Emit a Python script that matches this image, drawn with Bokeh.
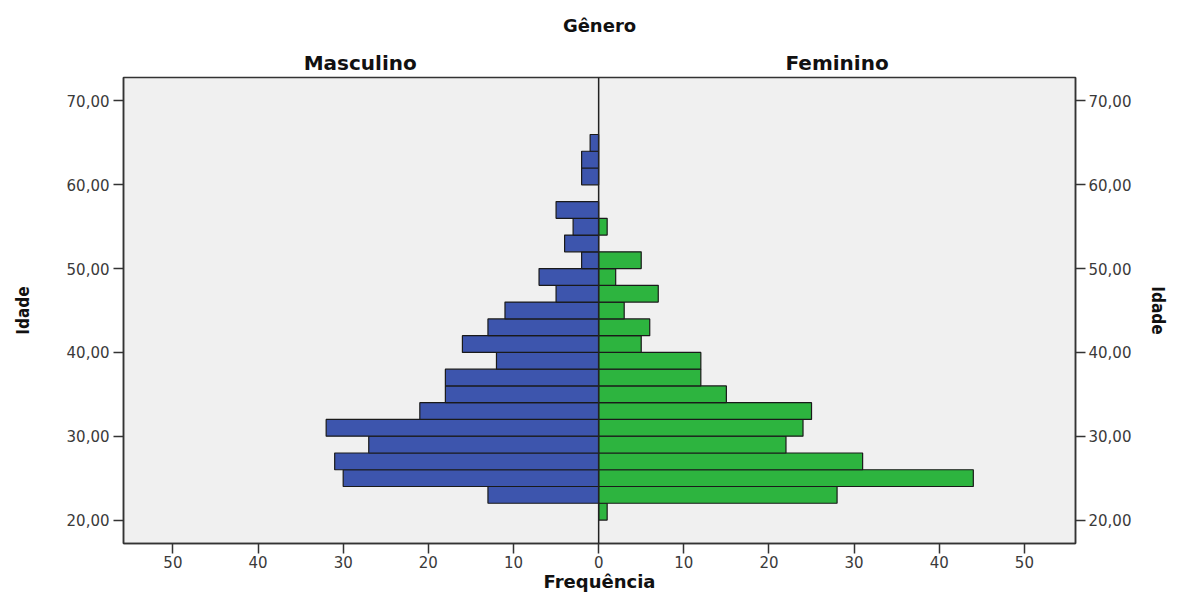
from bokeh.plotting import figure
from bokeh.models import Range1d, LinearAxis, FixedTicker, Span, ColumnDataSource
from bokeh.embed import file_html
from bokeh.resources import INLINE

# Data: age bins (lower edge, width 2 years) and counts
age_start = [20, 22, 24, 26, 28, 30, 32, 34, 36, 38, 40, 42, 44, 46, 48, 50, 52, 54, 56, 58, 60, 62, 64]
masculino = [0, 13, 30, 31, 27, 32, 21, 18, 18, 12, 16, 13, 11, 5, 7, 2, 4, 3, 5, 0, 2, 2, 1]
feminino = [1, 28, 44, 31, 22, 24, 25, 15, 12, 12, 5, 6, 3, 7, 2, 5, 0, 1, 0, 0, 0, 0, 0]
bin_width = 2
y_ticks = [20, 30, 40, 50, 60, 70]
x_ticks = [-50, -40, -30, -20, -10, 0, 10, 20, 30, 40, 50]
panel_names = {-28: "Masculino", 28: "Feminino"}

BLUE = "#3D55AD"
GREEN = "#2DB43F"
EDGE = "#1a1a1a"
AXC = "#333333"
FONT = "DejaVu Sans"

m_src = ColumnDataSource(dict(
    left=[-v for v in masculino if v > 0],
    right=[0 for v in masculino if v > 0],
    bottom=[a for v, a in zip(masculino, age_start) if v > 0],
    top=[a + bin_width for v, a in zip(masculino, age_start) if v > 0],
))
f_src = ColumnDataSource(dict(
    left=[0 for v in feminino if v > 0],
    right=[v for v in feminino if v > 0],
    bottom=[a for v, a in zip(feminino, age_start) if v > 0],
    top=[a + bin_width for v, a in zip(feminino, age_start) if v > 0],
))

p = figure(width=1171, height=594, output_backend="svg", toolbar_location=None,
           x_range=Range1d(-55.8, 56.0), y_range=Range1d(17.2, 72.8),
           min_border_left=123, min_border_right=96, min_border_top=77, min_border_bottom=40,
           title="Gênero")
p.title.align = "center"
p.title.text_font = FONT
p.title.text_font_size = "18px"
p.title.text_font_style = "bold"
p.title.text_color = "#111111"
p.title.standoff = 24

p.background_fill_color = "#F0F0F0"
p.border_fill_color = "white"
p.outline_line_color = AXC
p.outline_line_width = 1.5
p.xgrid.visible = False
p.ygrid.visible = False

p.quad(left="left", right="right", bottom="bottom", top="top", source=m_src,
       fill_color=BLUE, line_color=EDGE, line_width=1.2)
p.quad(left="left", right="right", bottom="bottom", top="top", source=f_src,
       fill_color=GREEN, line_color=EDGE, line_width=1.2)

p.add_layout(Span(location=0, dimension="height", line_color="#222222", line_width=1.5))

def style_axis(ax):
    ax.axis_line_color = AXC
    ax.axis_line_width = 1.5
    ax.major_tick_line_color = AXC
    ax.major_tick_line_width = 1.5
    ax.major_tick_out = 10
    ax.major_tick_in = 0
    ax.minor_tick_line_color = None
    ax.major_label_text_font = FONT
    ax.major_label_text_font_size = "15px"
    ax.major_label_text_color = "#3a3a3a"

# x axis
xa = p.xaxis[0]
style_axis(xa)
xa.ticker = FixedTicker(ticks=x_ticks)
xa.major_label_overrides = {t: str(abs(t)) for t in x_ticks}
xa.major_label_standoff = 2
xa.axis_label = "Frequência"
xa.axis_label_standoff = 0
xa.axis_label_text_font = FONT
xa.axis_label_text_font_size = "18px"
xa.axis_label_text_font_style = "bold"
xa.axis_label_text_color = "#111111"

# left y axis
ya = p.yaxis[0]
style_axis(ya)
ya.ticker = FixedTicker(ticks=y_ticks)
ya.major_label_overrides = {t: f"{t},00" for t in y_ticks}
ya.major_label_standoff = 4
ya.axis_label = "Idade"
ya.axis_label_standoff = 31
ya.axis_label_text_font = "DejaVu Sans Condensed"
ya.axis_label_text_font_size = "17px"
ya.axis_label_text_font_style = "bold"
ya.axis_label_text_color = "#111111"

# right y axis
yr = LinearAxis(ticker=FixedTicker(ticks=y_ticks))
style_axis(yr)
yr.major_label_overrides = {t: f"{t},00" for t in y_ticks}
yr.major_label_standoff = 3
yr.axis_label = "Idade"
yr.axis_label_standoff = 14
yr.axis_label_text_font = "DejaVu Sans Condensed"
yr.axis_label_text_font_size = "17px"
yr.axis_label_text_font_style = "bold"
yr.axis_label_text_color = "#111111"
p.add_layout(yr, "right")

# panel headers as a label-only axis above the frame
top_ax = LinearAxis(ticker=FixedTicker(ticks=list(panel_names.keys())))
top_ax.major_label_overrides = dict(panel_names)
top_ax.axis_line_color = None
top_ax.major_tick_line_color = None
top_ax.minor_tick_line_color = None
top_ax.major_tick_out = 0
top_ax.major_tick_in = 0
top_ax.major_label_standoff = 3
top_ax.major_label_text_font = FONT
top_ax.major_label_text_font_size = "20px"
top_ax.major_label_text_font_style = "bold"
top_ax.major_label_text_color = "#111111"
p.add_layout(top_ax, "above")

open("out.html", "w").write(file_html(p, INLINE))
